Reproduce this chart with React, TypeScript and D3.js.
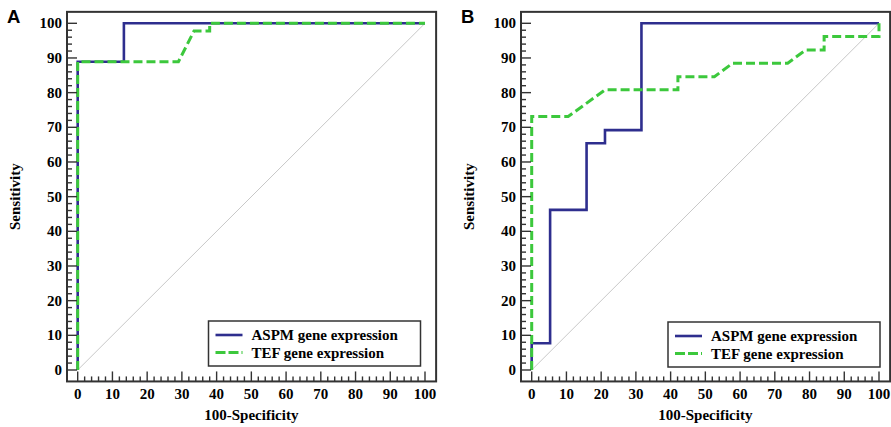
import React from "react";
import * as d3 from "d3";

type Pt = [number, number];

// axis ticks (both axes use the same 0..100 scale)
const majorTicks = d3.range(0, 101, 10);
const minorTicks = d3.range(0, 101, 2);

const seriesNames = ["ASPM gene expression", "TEF gene expression"];
const panelLetters = ["A", "B"];
const xTitle = "100-Specificity";
const yTitle = "Sensitivity";

// panel A ROC points (100-specificity, sensitivity)
const aspmA: Pt[] = [
  [0, 0], [0, 88.9], [13.3, 88.9], [13.3, 100], [100, 100],
];
const tefA: Pt[] = [
  [0, 0], [0, 88.9], [29, 88.9], [33.5, 97.8], [38, 97.8], [38, 100], [100, 100],
];

// panel B ROC points
const aspmB: Pt[] = [
  [0, 0], [0, 7.7], [5.3, 7.7], [5.3, 46.2], [15.8, 46.2], [15.8, 65.4],
  [21.1, 65.4], [21.1, 69.2], [31.6, 69.2], [31.6, 100], [100, 100],
];
const tefB: Pt[] = [
  [0, 0], [0, 73.1], [10.5, 73.1], [21.1, 80.8], [42.1, 80.8], [42.1, 84.6],
  [52.6, 84.6], [57.9, 88.5], [73.7, 88.5], [78.9, 92.3], [84.2, 92.3],
  [84.2, 96.2], [100, 96.2], [100, 100],
];

const SERIF = "'Liberation Serif', 'Times New Roman', serif";
const SANS = "'Liberation Sans', Arial, sans-serif";
const BLUE = "#2e2e8e";
const GREEN = "#3cc83c";
const DARK = "#333";

type PanelProps = {
  letter: string;
  aspm: Pt[];
  tef: Pt[];
  dx: number;
  legendX: number;
  legendY: number;
};

function Panel({ letter, aspm, tef, dx, legendX, legendY }: PanelProps) {
  const x = d3.scaleLinear().domain([0, 100]).range([77.7, 425]);
  const y = d3.scaleLinear().domain([0, 100]).range([370, 23.3]);
  const line = d3
    .line<Pt>()
    .x((d) => x(d[0]))
    .y((d) => y(d[1]));

  // frame sits a little outside the 0..100 range
  const fx1 = x(-3.08);
  const fx2 = x(103.2);
  const fy1 = y(103.3);
  const fy2 = y(-3.3);

  const legendW = 212;
  const legendH = 45;

  return (
    <g transform={`translate(${dx},0)`}>
      <text x={7} y={23} fontFamily={SANS} fontWeight="bold" fontSize={18.5}>
        {letter}
      </text>

      {/* chance diagonal */}
      <line
        x1={x(0)}
        y1={y(0)}
        x2={x(100)}
        y2={y(100)}
        stroke="#c8c8c8"
        strokeWidth={1}
      />

      <path d={line(aspm) ?? ""} fill="none" stroke={BLUE} strokeWidth={2.6} />
      <path
        d={line(tef) ?? ""}
        fill="none"
        stroke={GREEN}
        strokeWidth={3}
        strokeDasharray="9,4"
      />

      <rect
        x={fx1}
        y={fy1}
        width={fx2 - fx1}
        height={fy2 - fy1}
        fill="none"
        stroke={DARK}
        strokeWidth={2}
      />

      {/* y ticks, pointing into the plot */}
      {minorTicks.map((t) => (
        <line
          key={`ym${t}`}
          x1={fx1}
          x2={fx1 + (t % 10 === 0 ? 10 : 5)}
          y1={y(t)}
          y2={y(t)}
          stroke={DARK}
          strokeWidth={1.4}
        />
      ))}
      {majorTicks.map((t) => (
        <text
          key={`yl${t}`}
          x={fx1 - 5}
          y={y(t) + 5}
          textAnchor="end"
          fontFamily={SERIF}
          fontWeight="bold"
          fontSize={15}
        >
          {t}
        </text>
      ))}

      {/* x ticks */}
      {minorTicks.map((t) => (
        <line
          key={`xm${t}`}
          x1={x(t)}
          x2={x(t)}
          y1={fy2}
          y2={fy2 - (t % 10 === 0 ? 10 : 5)}
          stroke={DARK}
          strokeWidth={1.4}
        />
      ))}
      {majorTicks.map((t) => (
        <text
          key={`xl${t}`}
          x={x(t)}
          y={398.5}
          textAnchor="middle"
          fontFamily={SERIF}
          fontWeight="bold"
          fontSize={15}
        >
          {t}
        </text>
      ))}

      <text
        x={(x(0) + x(100)) / 2}
        y={420}
        textAnchor="middle"
        fontFamily={SERIF}
        fontWeight="bold"
        fontSize={15}
      >
        {xTitle}
      </text>
      <text
        transform={`translate(20,${(y(0) + y(100)) / 2}) rotate(-90)`}
        textAnchor="middle"
        fontFamily={SERIF}
        fontWeight="bold"
        fontSize={15}
      >
        {yTitle}
      </text>

      {/* legend */}
      <g transform={`translate(${legendX},${legendY})`}>
        <rect
          width={legendW}
          height={legendH}
          fill="white"
          stroke={DARK}
          strokeWidth={1.5}
        />
        <line x1={7} x2={34} y1={14} y2={14} stroke={BLUE} strokeWidth={2.6} />
        <line
          x1={7}
          x2={34}
          y1={31.5}
          y2={31.5}
          stroke={GREEN}
          strokeWidth={3}
          strokeDasharray="10,3"
        />
        {seriesNames.map((name, i) => (
          <text
            key={name}
            x={43}
            y={19 + i * 17.5}
            fontFamily={SERIF}
            fontWeight="bold"
            fontSize={15}
          >
            {name}
          </text>
        ))}
      </g>
    </g>
  );
}

export default function App() {
  return (
    <svg
      width={891}
      height={427}
      style={{ position: "absolute", left: 0, top: 0, background: "white" }}
    >
      <Panel
        letter={panelLetters[0]}
        aspm={aspmA}
        tef={tefA}
        dx={0}
        legendX={208.5}
        legendY={321}
      />
      <Panel
        letter={panelLetters[1]}
        aspm={aspmB}
        tef={tefB}
        dx={454}
        legendX={214}
        legendY={322}
      />
    </svg>
  );
}
